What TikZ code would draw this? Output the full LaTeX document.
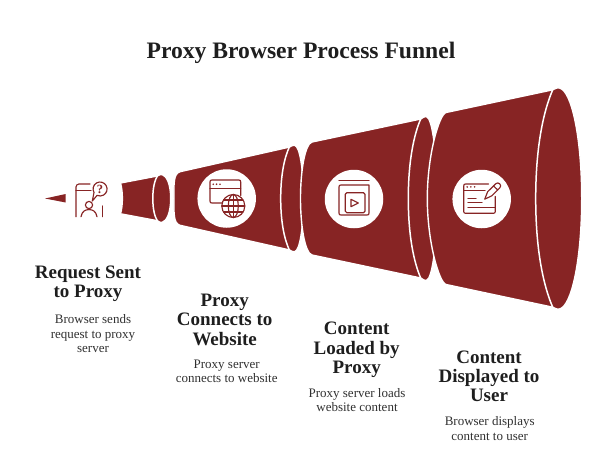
\documentclass[tikz,border=0pt]{standalone}
\usepackage{fontspec}
\setmainfont{Liberation Serif}
\definecolor{funnel}{HTML}{872424}
\definecolor{ink}{HTML}{1E1E1E}
\newcommand{\funnelpart}[9]{%
  \draw[funnelfill]
    ({#2},{198.5-#3}) .. controls ({#2-7},{198.5-#3+2}) and ({#1},{198.5-#3*.5}) .. ({#1},198.5)
    .. controls ({#1},{198.5+#3*.5}) and ({#2-7},{198.5+#3-2}) .. ({#2},{198.5+#3})
    -- ({#4},{198.5+#5})
    .. controls ({#6-2},{198.5+#7+.5}) and ({#6-1},{198.5+#7+.5}) .. ({#6},{198.5+#7})
    .. controls ({#6+(#8-#6)*.55},{198.5+#7*.98}) and ({#8},{198.5+#7*.55}) .. ({#8},198.5)
    .. controls ({#8},{198.5-#7*.55}) and ({#6+(#8-#6)*.55},{198.5-#7*.98}) .. ({#6},{198.5-#7})
    .. controls ({#6-1},{198.5-#7-.5}) and ({#6-2},{198.5-#7-.5}) .. ({#4},{198.5-#5})
    -- cycle;
  \draw[rimline] ({#4},{198.5-#5}) .. controls ({#9+(#4-#9)*.5},{198.5-#5*.82}) and ({#9},{198.5-#5*.5}) .. ({#9},198.5)
    .. controls ({#9},{198.5+#5*.5}) and ({#9+(#4-#9)*.5},{198.5+#5*.82}) .. ({#4},{198.5+#5});
}
\tikzset{
  funnelfill/.style={fill=funnel,draw=white,line width=1.4pt,line join=round},
  rimline/.style={draw=white,line width=1.5pt},
  iconline/.style={draw=funnel,line width=1.15pt,line cap=round,line join=round},
  iconcircle/.style={circle,fill=white,draw=none,minimum size=58.5pt,inner sep=0pt},
  titletext/.style={font=\fontsize{23.6}{28}\selectfont\bfseries,text=ink,inner sep=0pt,anchor=base},
  headtext/.style={font=\fontsize{19}{19.2}\selectfont\bfseries,text=ink,align=center,inner sep=0pt,anchor=base},
  bodytext/.style={font=\fontsize{13}{14.3}\selectfont,text=ink!92,align=center,inner sep=0pt,anchor=base},
}
\begin{document}
\begin{tikzpicture}[x=1pt,y=-1pt]
\useasboundingbox (0,0) rectangle (602,472);
\node[titletext] (title) at (301,58) {Proxy Browser Process Funnel};
% tip of the funnel
\fill[funnel] (45,198.5) -- (65.7,194) -- (65.7,202.5) -- cycle;
% first section, hollowed by the icon's circle
\draw[funnelfill] (120.5,183) .. controls (123,192) and (123,205) .. (120.5,213.8)
  -- (157.3,220.7) .. controls (159,222.4) and (161,222.6) .. (162.3,222.3)
  .. controls (167,221) and (170.7,212) .. (170.7,198.5)
  .. controls (170.7,185) and (167,176) .. (162.3,174.6)
  .. controls (161,174.3) and (159,174.6) .. (157.3,176) -- cycle;
\draw[rimline] (157.3,176) .. controls (155,180) and (152.8,187) .. (152.8,198.5)
  .. controls (152.8,210) and (155,217) .. (157.3,220.7);
\funnelpart{174}{180}{26.8}{289.3}{51.4}{295}{53}{303.5}{280.7}
\funnelpart{300.5}{312}{56.5}{420.7}{79.5}{426.7}{81.7}{437}{408.3}
\funnelpart{427.3}{446}{86}{552.7}{108.7}{559.3}{110.5}{581.7}{535.7}
% icon circles
\node[iconcircle] (c2) at (226.7,198.5) {};
\node[iconcircle] (c3) at (354,199) {};
\node[iconcircle] (c4) at (481.7,199) {};
% icon 1: phone, person, question
\draw[iconline] (76,216.7) -- (76,187) arc[start angle=180,end angle=270,radius=3] -- (90,184);
\draw[iconline] (76,190.7) -- (91,190.7);
\draw[iconline] (102.7,206) -- (102.7,216.7);
\draw[iconline] (94,192.5) arc[start angle=150,end angle=475,radius=7] -- (92.3,201) -- cycle;
\node[font=\fontsize{12.5}{12.5}\selectfont\bfseries,text=funnel,inner sep=0pt] (q) at (100,189) {?};
\draw[iconline] (89,205) circle[radius=3.6];
\draw[iconline] (81,216.7) .. controls (82,211) and (85.5,209.6) .. (89,209.6) .. controls (92.5,209.6) and (96,211) .. (97,216.7);
% icon 2: window and globe
\draw[iconline] (222.5,203) -- (212,203) .. controls (210.5,203) and (210,202.5) .. (210,201) -- (210,182) .. controls (210,180.5) and (210.5,180) .. (212,180) -- (238.7,180) .. controls (240.2,180) and (240.7,180.5) .. (240.7,182) -- (240.7,195.5);
\draw[iconline] (210,188.3) -- (240.7,188.3);
\fill[funnel] (213.2,184.2) circle[radius=.9] (216.6,184.2) circle[radius=.9] (220,184.2) circle[radius=.9];
\draw[iconline] (233.3,206) circle[radius=11.5];
\draw[iconline] (233.3,206) ellipse[x radius=5,y radius=11.5];
\draw[iconline] (233.3,194.5) -- (233.3,217.5) (221.8,206) -- (244.8,206) (223.6,200) -- (243,200) (223.6,212) -- (243,212);
% icon 3: book and play
\draw[iconline] (339,180.7) -- (369,180.7);
\draw[iconline] (369,185) -- (341,185) .. controls (339.5,185) and (339,185.5) .. (339,187) -- (339,213) .. controls (339,214.5) and (339.5,215) .. (341,215) -- (367,215) .. controls (368.5,215) and (369,214.5) .. (369,213) -- (369,185);
\draw[iconline,rounded corners=1.5pt] (345.3,192.7) rectangle (365,212.7);
\draw[iconline] (351,199.3) -- (358.3,203) -- (351,206.7) -- cycle;
% icon 4: editor and pencil
\draw[iconline] (488.5,184) -- (465.7,184) .. controls (464.2,184) and (463.7,184.5) .. (463.7,186) -- (463.7,211.3) .. controls (463.7,212.8) and (464.2,213.3) .. (465.7,213.3) -- (493.3,213.3) .. controls (494.8,213.3) and (495.3,212.8) .. (495.3,211.3) -- (495.3,196.5);
\draw[iconline] (463.7,190.3) -- (485,190.3);
\fill[funnel] (467.2,186.9) circle[radius=.9] (470.8,186.9) circle[radius=.9] (474.6,186.9) circle[radius=.9];
\draw[iconline] (468,198.3) -- (476,198.3) (468,202.8) -- (482,202.8) (468,207.8) -- (494.5,207.8);
\draw[iconline] (484.7,199.2) -- (487.6,191.8) -- (495.7,183.8) .. controls (497,182.6) and (498.6,182.6) .. (499.8,183.9) .. controls (501,185.2) and (501,186.6) .. (499.8,187.8) -- (491.8,195.8) -- cycle;
\draw[iconline] (493.5,186) -- (497.8,190);
% labels (a multi-line node's base is the baseline of its last line)
\node[headtext] (h1) at (88,297.5) {Request Sent\\to Proxy};
\node[bodytext] (b1) at (93,352.4) {Browser sends\\request to proxy\\server};
\node[headtext] (h2) at (224.7,345) {Proxy\\Connects to\\Website};
\node[bodytext] (b2) at (226.7,382.7) {Proxy server\\connects to website};
\node[headtext] (h3) at (356.7,373.3) {Content\\Loaded by\\Proxy};
\node[bodytext] (b3) at (357,411.7) {Proxy server loads\\website content};
\node[headtext] (h4) at (489,401.7) {Content\\Displayed to\\User};
\node[bodytext] (b4) at (489.7,440) {Browser displays\\content to user};
\end{tikzpicture}
\end{document}
